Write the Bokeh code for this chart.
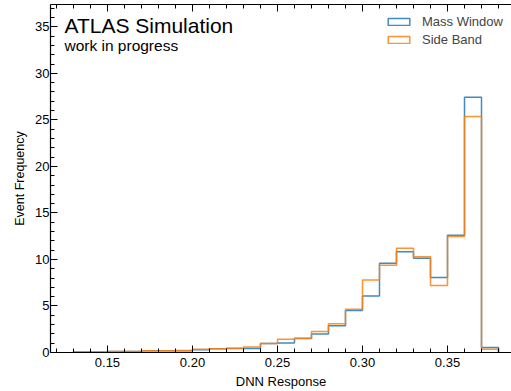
import numpy as np
from bokeh.plotting import figure
from bokeh.models import (Range1d, LinearAxis, SingleIntervalTicker, PrintfTickFormatter,
                          CustomJSTickFormatter, Label, Legend, LegendItem, ColumnDataSource)
from bokeh.embed import file_html
from bokeh.resources import INLINE

# ---- data ----
bin_edges = [0.13, 0.14, 0.15, 0.16, 0.17, 0.18, 0.19, 0.20, 0.21, 0.22, 0.23, 0.24, 0.25,
             0.26, 0.27, 0.28, 0.29, 0.30, 0.31, 0.32, 0.33, 0.34, 0.35, 0.36, 0.37, 0.38]
mass_window = [0.05, 0.05, 0.10, 0.10, 0.20, 0.20, 0.20, 0.30, 0.40, 0.43, 0.43, 0.96, 1.03,
               1.50, 2.00, 2.88, 4.52, 6.08, 9.60, 10.82, 10.14, 8.07, 12.60, 27.43, 0.53]
side_band = [0.05, 0.05, 0.12, 0.12, 0.20, 0.20, 0.22, 0.35, 0.40, 0.45, 0.60, 0.96, 1.42,
             1.53, 2.25, 3.10, 4.65, 7.78, 9.37, 11.20, 10.29, 7.21, 12.47, 25.36, 0.35]
series_names = ["Mass Window", "Side Band"]
series_colors = ["#1f77b4", "#ff7f0e"]

FONT = "Liberation Sans"

p = figure(width=511, height=391, output_backend="svg", toolbar_location=None,
           x_range=Range1d(0.1165, 0.38764), y_range=Range1d(0, 37.4),
           min_border_left=50, min_border_right=0, min_border_top=4, min_border_bottom=38,
           x_axis_label="DNN Response", y_axis_label="Event Frequency")
p.outline_line_color = None
p.grid.visible = False
p.background_fill_color = "white"
p.border_fill_color = "white"

p.xaxis.ticker = SingleIntervalTicker(interval=0.05, num_minor_ticks=5)
p.yaxis.ticker = SingleIntervalTicker(interval=5, num_minor_ticks=5)
p.xaxis.formatter = PrintfTickFormatter(format="%.2f")


def style_axis(ax):
    ax.major_tick_in = 7
    ax.major_tick_out = 0
    ax.minor_tick_in = 4
    ax.minor_tick_out = 0
    ax.axis_line_color = "black"
    ax.axis_line_width = 1.2
    ax.major_tick_line_color = "black"
    ax.minor_tick_line_color = "black"
    ax.major_tick_line_width = 1
    ax.minor_tick_line_width = 1
    ax.major_label_text_font = FONT
    ax.major_label_text_font_size = "13px"
    ax.major_label_text_color = "black"
    ax.axis_label_text_font = FONT
    ax.axis_label_text_font_size = "13px"
    ax.axis_label_text_font_style = "normal"
    ax.axis_label_text_color = "black"


for ax in p.xaxis + p.yaxis:
    style_axis(ax)
p.xaxis.major_label_standoff = 5
p.xaxis.axis_label_standoff = 4
p.yaxis.major_label_standoff = 1
p.yaxis.axis_label_standoff = 5
p.yaxis.axis_label_text_font_size = "12.5px"

top_axis = LinearAxis(ticker=SingleIntervalTicker(interval=0.05, num_minor_ticks=5),
                      formatter=CustomJSTickFormatter(code="return ''"))
style_axis(top_axis)
top_axis.major_label_standoff = 0
p.add_layout(top_axis, "above")

# ---- step histograms ----
edges = np.array(bin_edges)
renderers = []
for vals, col in zip([mass_window, side_band], series_colors):
    xs = np.repeat(edges, 2)
    ys = np.concatenate([[0.0], np.repeat(np.array(vals), 2), [0.0]])
    p.line(xs, ys, line_color=col, line_width=1.5, line_alpha=0.85)
    # proxy glyph for the legend (outlined box), nothing drawn in the plot
    proxy = ColumnDataSource(dict(left=[np.nan], right=[np.nan], top=[np.nan], bottom=[np.nan]))
    r = p.quad(left="left", right="right", top="top", bottom="bottom", source=proxy,
               fill_alpha=0, line_color=col, line_width=1.5, line_alpha=0.85)
    renderers.append(r)

legend = Legend(items=[LegendItem(label=n, renderers=[r]) for n, r in zip(series_names, renderers)],
                location=(335, 305))
legend.glyph_width = 27
legend.glyph_height = 9
legend.label_height = 9
legend.spacing = 3
legend.padding = 6
legend.margin = 0
legend.label_standoff = 10
legend.label_text_font = FONT
legend.label_text_font_size = "13px"
legend.background_fill_alpha = 0
legend.border_line_color = None
p.add_layout(legend)

p.add_layout(Label(x=0.1247, y=35.1, text="ATLAS Simulation", text_font=FONT,
                   text_font_size="21px", text_baseline="alphabetic", text_color="black"))
p.add_layout(Label(x=0.1247, y=33.0, text="work in progress", text_font=FONT,
                   text_font_size="15.5px", text_baseline="alphabetic", text_color="black"))

open("out.html", "w").write(file_html(p, INLINE))
